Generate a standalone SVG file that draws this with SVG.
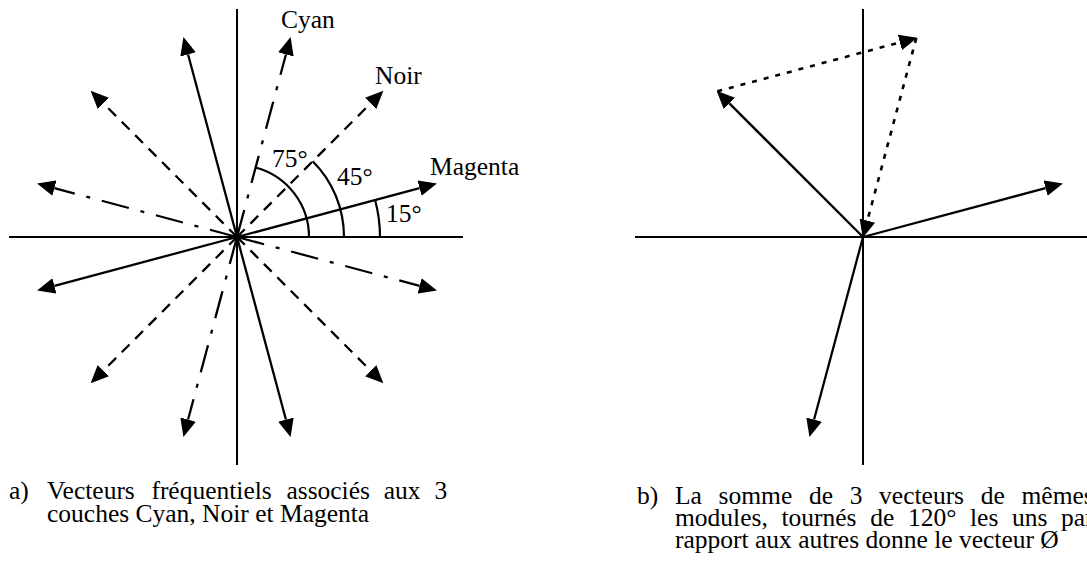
<svg xmlns="http://www.w3.org/2000/svg" width="1087" height="561" viewBox="0 0 1087 561">
<style>
.ax{stroke:#000;stroke-width:2;fill:none}
.v{stroke:#000;stroke-width:2.3;fill:none}
.dash{stroke-dasharray:11 8}
.dd{stroke-dasharray:28 12 4 12}
.dot{stroke-dasharray:5 7;stroke-width:2.6}
.arc{stroke:#000;stroke-width:2.2;fill:none}
text{font-family:"Liberation Serif","Times New Roman",serif;font-size:25.5px;fill:#000}
</style>
<defs>
<marker id="ah" markerUnits="userSpaceOnUse" markerWidth="18" markerHeight="16" viewBox="0 0 18 16" refX="0" refY="8" orient="auto"><path d="M0,0 L18,8 L0,16 Z" fill="#000"/></marker>
</defs>
<rect width="1087" height="561" fill="#fff"/>

<g id="fig-a">
  <g id="axes-a">
    <line class="ax" x1="237" y1="9" x2="237" y2="465"/>
    <line class="ax" x1="9" y1="237" x2="463" y2="237"/>
  </g>
  <g id="connectors-a">
    <g id="magenta-vectors">
      <line class="v" x1="237" y1="237" x2="419.56" y2="188.08" marker-end="url(#ah)"/>
      <line class="v" x1="237" y1="237" x2="188.08" y2="54.44" marker-end="url(#ah)"/>
      <line class="v" x1="237" y1="237" x2="54.44" y2="285.92" marker-end="url(#ah)"/>
      <line class="v" x1="237" y1="237" x2="285.92" y2="419.56" marker-end="url(#ah)"/>
    </g>
    <g id="noir-vectors">
      <line class="v dash" x1="237" y1="237" x2="370.64" y2="103.36" marker-end="url(#ah)"/>
      <line class="v dash" x1="237" y1="237" x2="103.36" y2="103.36" marker-end="url(#ah)"/>
      <line class="v dash" x1="237" y1="237" x2="103.36" y2="370.64" marker-end="url(#ah)"/>
      <line class="v dash" x1="237" y1="237" x2="370.64" y2="370.64" marker-end="url(#ah)"/>
    </g>
    <g id="cyan-vectors">
      <line class="v dd" x1="237" y1="237" x2="285.92" y2="54.44" marker-end="url(#ah)"/>
      <line class="v dd" x1="237" y1="237" x2="54.44" y2="188.08" marker-end="url(#ah)"/>
      <line class="v dd" x1="237" y1="237" x2="188.08" y2="419.56" marker-end="url(#ah)"/>
      <line class="v dd" x1="237" y1="237" x2="419.56" y2="285.92" marker-end="url(#ah)"/>
    </g>
    <g id="angle-arcs">
      <path class="arc" d="M380,237 A143,143 0 0 0 375.1,200"/>
      <path class="arc" d="M344,237 A107,107 0 0 0 312.7,161.3"/>
      <path class="arc" d="M309,237 A72,72 0 0 0 255.6,167.5"/>
    </g>
  </g>
  <g id="labels-a">
    <text x="281" y="28">Cyan</text>
    <text x="375" y="84">Noir</text>
    <text x="430" y="175">Magenta</text>
    <text x="272" y="167">75°</text>
    <text x="337" y="185">45°</text>
    <text x="386" y="222">15°</text>
  </g>
  <g id="caption-a">
    <text x="9" y="499">a)</text>
    <text y="499"><tspan x="47">Vecteurs</tspan><tspan x="151.4">fréquentiels</tspan><tspan x="286.4">associés</tspan><tspan x="383.8">aux</tspan><tspan x="434.4">3</tspan></text>
    <text x="47" y="522">couches Cyan, Noir et Magenta</text>
  </g>
</g>

<g id="fig-b">
  <g id="axes-b">
    <line class="ax" x1="863" y1="9" x2="863" y2="465"/>
    <line class="ax" x1="635" y1="237" x2="1087" y2="237"/>
  </g>
  <g id="connectors-b">
    <line class="v" x1="863" y1="237" x2="729.36" y2="103.36" marker-end="url(#ah)"/>
    <line class="v" x1="863" y1="237" x2="1045.56" y2="188.08" marker-end="url(#ah)"/>
    <line class="v" x1="863" y1="237" x2="814.08" y2="419.56" marker-end="url(#ah)"/>
    <line class="v dot" x1="717.3" y1="91.3" x2="899.9" y2="42.4" marker-end="url(#ah)"/>
    <line class="v dot" x1="916.3" y1="38" x2="867.4" y2="220.6" marker-end="url(#ah)"/>
  </g>
  <g id="caption-b">
    <text x="637" y="504">b)</text>
    <text y="504"><tspan x="675">La</tspan><tspan x="718.6">somme</tspan><tspan x="808.9">de</tspan><tspan x="849.7">3</tspan><tspan x="879.1">vecteurs</tspan><tspan x="980.7">de</tspan><tspan x="1021.5">mêmes</tspan></text>
    <text y="526"><tspan x="675">modules,</tspan><tspan x="781.4">tournés</tspan><tspan x="870.2">de</tspan><tspan x="907.9">120°</tspan><tspan x="970">les</tspan><tspan x="1012">uns</tspan><tspan x="1061">par</tspan></text>
    <text x="675" y="548">rapport aux autres donne le vecteur Ø</text>
  </g>
</g>
</svg>
